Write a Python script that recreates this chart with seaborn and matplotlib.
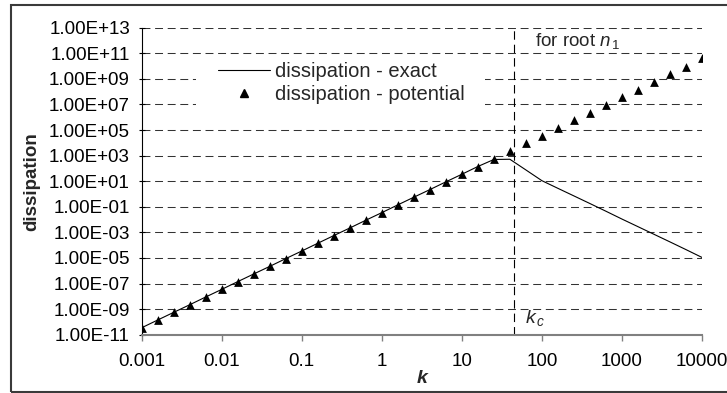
import matplotlib
matplotlib.use("Agg")
import matplotlib.pyplot as plt
from matplotlib.lines import Line2D
from matplotlib.patches import Rectangle
from matplotlib.ticker import FixedLocator, FixedFormatter, NullLocator
import pandas as pd
import seaborn as sns

# wavenumber grid (log-spaced, 5 points per decade)
k_values = [0.001, 0.00158, 0.00251, 0.00398, 0.00631,
            0.01, 0.0158, 0.0251, 0.0398, 0.0631,
            0.1, 0.158, 0.251, 0.398, 0.631,
            1.0, 1.58, 2.51, 3.98, 6.31,
            10.0, 15.8, 25.1, 39.8, 63.1,
            100.0, 158.0, 251.0, 398.0, 631.0,
            1000.0, 1585.0, 2512.0, 3981.0, 6310.0,
            10000.0]

# dissipation from the potential approximation
dissipation_potential = [3.5e-11, 1.4e-10, 5.6e-10, 2.2e-9, 8.9e-9,
                         3.5e-8, 1.4e-7, 5.6e-7, 2.2e-6, 8.9e-6,
                         3.5e-5, 1.4e-4, 5.6e-4, 2.2e-3, 8.9e-3,
                         3.5e-2, 0.14, 0.56, 2.2, 8.9,
                         35.0, 140.0, 560.0, 2200.0, 8900.0,
                         3.5e4, 1.4e5, 5.6e5, 2.2e6, 8.9e6,
                         3.5e7, 1.4e8, 5.6e8, 2.2e9, 8.9e9,
                         4.5e10]

# exact dissipation
dissipation_exact = [3.5e-11, 1.4e-10, 5.6e-10, 2.2e-9, 8.9e-9,
                     3.5e-8, 1.4e-7, 5.6e-7, 2.2e-6, 8.9e-6,
                     3.5e-5, 1.4e-4, 5.6e-4, 2.2e-3, 8.9e-3,
                     3.5e-2, 0.14, 0.56, 2.2, 8.9,
                     35.0, 140.0, 500.0, 520.0, 76.0,
                     11.0, 2.8, 0.71, 0.18, 0.045,
                     0.011, 2.8e-3, 7.1e-4, 1.8e-4, 4.5e-5,
                     1.1e-5]

k_critical = 44.5

x_ticks = [0.001, 0.01, 0.1, 1, 10, 100, 1000, 10000]
x_tick_labels = ["0.001", "0.01", "0.1", "1", "10", "100", "1000", "10000"]
y_ticks = [1e-11, 1e-9, 1e-7, 1e-5, 1e-3, 1e-1, 1e1, 1e3, 1e5, 1e7, 1e9, 1e11, 1e13]
y_tick_labels = [f"{v:.2E}" for v in y_ticks]

df = pd.DataFrame({"k": k_values,
                   "exact": dissipation_exact,
                   "potential": dissipation_potential})

sns.set_theme(style="white")
plt.rcParams["font.family"] = ["Liberation Sans", "DejaVu Sans"]
plt.rcParams["mathtext.fontset"] = "custom"
plt.rcParams["mathtext.rm"] = "Liberation Sans"
plt.rcParams["mathtext.it"] = "Liberation Sans:italic"
plt.rcParams["mathtext.bf"] = "Liberation Sans:bold"

fig = plt.figure(figsize=(7.27, 3.93), dpi=100)
ax = fig.add_axes([0.1949, 0.1483, 0.7707, 0.7812])

sns.lineplot(data=df, x="k", y="exact", ax=ax, color="black",
             linewidth=0.8, zorder=3)
sns.scatterplot(data=df, x="k", y="potential", ax=ax, marker="^",
                color="black", s=40, linewidth=0, zorder=4)

ax.set_xscale("log")
ax.set_yscale("log")
ax.set_xlim(0.001, 10000)
ax.set_ylim(1e-11, 1e13)

ax.xaxis.set_major_locator(FixedLocator(x_ticks))
ax.xaxis.set_major_formatter(FixedFormatter(x_tick_labels))
ax.xaxis.set_minor_locator(NullLocator())
ax.yaxis.set_major_locator(FixedLocator(y_ticks))
ax.yaxis.set_major_formatter(FixedFormatter(y_tick_labels))
ax.yaxis.set_minor_locator(NullLocator())

ax.tick_params(axis="x", direction="out", length=4.5, width=1,
               color="#808080", pad=9, labelsize=13.5, labelcolor="black",
               bottom=True)
ax.tick_params(axis="y", direction="inout", length=5, width=0.8,
               color="black", pad=6, labelsize=13.5, labelcolor="black",
               left=True)

# dashed horizontal grid
ax.set_axisbelow(True)
ax.yaxis.grid(True, color="#333333", linewidth=0.75,
              linestyle=(0, (7.6, 4.5)))
ax.xaxis.grid(False)

for side in ("top", "right"):
    ax.spines[side].set_visible(False)
ax.spines["left"].set_color("black")
ax.spines["left"].set_linewidth(0.8)
ax.spines["bottom"].set_color("#808080")
ax.spines["bottom"].set_linewidth(1.5)

# critical wavenumber marker
ax.axvline(k_critical, color="black", linewidth=0.8,
           linestyle=(0, (7.6, 4.5)), zorder=2)
ax.text(0.684, 0.039, r"$\mathit{k}_{\,c}$", transform=ax.transAxes,
        fontsize=14, va="baseline", ha="left")
ax.text(0.702, 0.958, r"for root $\mathit{n}_{\,1}$", transform=ax.transAxes,
        fontsize=13.5, va="center", ha="left")

ax.set_xlabel("k", fontsize=14, fontweight="bold", fontstyle="italic",
              labelpad=0)
ax.set_ylabel("dissipation", fontsize=13.5, fontweight="bold", labelpad=6)

# white panel behind the legend
ax.add_patch(Rectangle((0.0969, 0.7156), 0.5158, 0.189,
                       transform=ax.transAxes, facecolor="white",
                       edgecolor="none", zorder=1))
handles = [Line2D([], [], color="black", linewidth=0.8),
           Line2D([], [], color="black", marker="^", linestyle="none",
                  markersize=6.3)]
ax.legend(handles, ["dissipation - exact", "dissipation - potential"],
          loc="upper left", bbox_to_anchor=(0.136, 0.889), frameon=False,
          fontsize=14.5, handlelength=2.6, handletextpad=0.25,
          labelspacing=0.22, borderpad=0, borderaxespad=0)

# chart border
fig.patches.append(Rectangle((11 / 727, 1 / 393), 1.0, 387 / 393,
                             transform=fig.transFigure, fill=False,
                             edgecolor="#3a3a3a", linewidth=1.5))

fig.savefig("out.png", dpi=100)
